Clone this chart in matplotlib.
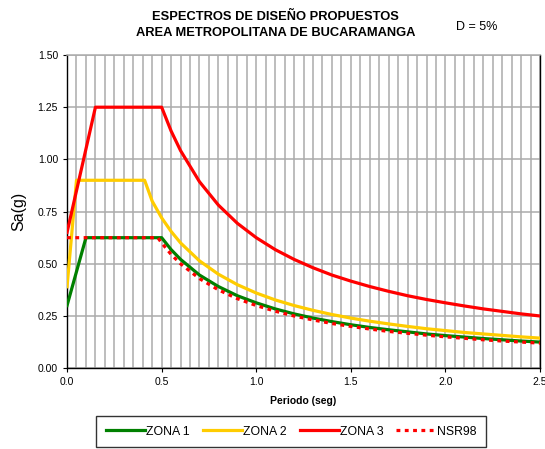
import matplotlib
matplotlib.use("Agg")
import matplotlib.pyplot as plt
from matplotlib.ticker import MultipleLocator

plt.rcParams['font.family'] = ['Liberation Sans', 'DejaVu Sans']

# Design spectra: period (s) and spectral acceleration Sa (g)
t_zona1 = [0.0, 0.10, 0.50, 0.55, 0.60, 0.70, 0.80, 0.90, 1.00, 1.10, 1.20, 1.30,
           1.40, 1.50, 1.60, 1.70, 1.80, 1.90, 2.00, 2.10, 2.20, 2.30, 2.40, 2.50]
sa_zona1 = [0.30, 0.625, 0.625, 0.568, 0.521, 0.446, 0.391, 0.347, 0.313, 0.284, 0.260, 0.240,
            0.223, 0.208, 0.195, 0.184, 0.174, 0.164, 0.156, 0.149, 0.142, 0.136, 0.130, 0.125]

t_zona2 = [0.0, 0.05, 0.41, 0.45, 0.50, 0.55, 0.60, 0.70, 0.80, 0.90, 1.00, 1.10, 1.20,
           1.30, 1.40, 1.50, 1.60, 1.70, 1.80, 1.90, 2.00, 2.10, 2.20, 2.30, 2.40, 2.50]
sa_zona2 = [0.39, 0.90, 0.90, 0.80, 0.72, 0.655, 0.60, 0.514, 0.45, 0.40, 0.36, 0.327, 0.30,
            0.277, 0.257, 0.24, 0.225, 0.212, 0.20, 0.189, 0.18, 0.171, 0.164, 0.157, 0.15, 0.144]

t_zona3 = [0.0, 0.15, 0.50, 0.55, 0.60, 0.70, 0.80, 0.90, 1.00, 1.10, 1.20, 1.30,
           1.40, 1.50, 1.60, 1.70, 1.80, 1.90, 2.00, 2.10, 2.20, 2.30, 2.40, 2.50]
sa_zona3 = [0.65, 1.25, 1.25, 1.136, 1.042, 0.893, 0.781, 0.694, 0.625, 0.568, 0.521, 0.481,
            0.446, 0.417, 0.391, 0.368, 0.347, 0.329, 0.313, 0.298, 0.284, 0.272, 0.260, 0.250]

t_nsr98 = [0.0, 0.48, 0.50, 0.55, 0.60, 0.70, 0.80, 0.90, 1.00, 1.10, 1.20, 1.30,
           1.40, 1.50, 1.60, 1.70, 1.80, 1.90, 2.00, 2.10, 2.20, 2.30, 2.40, 2.50]
sa_nsr98 = [0.625, 0.625, 0.60, 0.545, 0.50, 0.429, 0.375, 0.333, 0.30, 0.273, 0.25, 0.231,
            0.214, 0.20, 0.1875, 0.176, 0.167, 0.158, 0.15, 0.143, 0.136, 0.130, 0.125, 0.12]

labels = ["ZONA 1", "ZONA 2", "ZONA 3", "NSR98"]
colors = ["#008000", "#FFCC00", "#FF0000", "#FF0000"]

fig = plt.figure(figsize=(5.45, 4.49), dpi=100)
ax = fig.add_axes([0.123, 0.180, 0.868, 0.6975])

lw = 2.3
ax.plot(t_zona1, sa_zona1, color=colors[0], lw=lw, label=labels[0], zorder=3)
ax.plot(t_zona2, sa_zona2, color=colors[1], lw=lw, label=labels[1], zorder=3)
ax.plot(t_zona3, sa_zona3, color=colors[2], lw=lw, label=labels[2], zorder=3)
ax.plot(t_nsr98, sa_nsr98, color=colors[3], lw=lw, ls=(0, (1.2, 1.4)),
        label=labels[3], zorder=4)

ax.set_xlim(0, 2.5)
ax.set_ylim(0, 1.5)
ax.xaxis.set_major_locator(MultipleLocator(0.5))
ax.xaxis.set_minor_locator(MultipleLocator(0.05))
ax.yaxis.set_major_locator(MultipleLocator(0.25))
ax.xaxis.set_major_formatter(plt.FormatStrFormatter('%.1f'))
ax.yaxis.set_major_formatter(plt.FormatStrFormatter('%.2f'))

ax.grid(which='both', axis='x', color='#ababab', lw=1.1, zorder=0)
ax.grid(which='major', axis='y', color='#ababab', lw=1.1, zorder=0)
ax.set_axisbelow(True)

ax.tick_params(axis='both', which='major', labelsize=7.5, length=3, width=0.8,
               direction='out', colors='black')
ax.tick_params(axis='x', which='minor', length=0)

ax.spines['top'].set_color('#ababab')
ax.spines['top'].set_linewidth(1.1)
ax.spines['right'].set_color('black')
ax.spines['right'].set_linewidth(1.0)
ax.spines['left'].set_linewidth(1.0)
ax.spines['bottom'].set_linewidth(1.0)

ax.set_xlabel("Periodo (seg)", fontsize=7.5, fontweight='bold', labelpad=6)
ax.set_ylabel("Sa(g)", fontsize=11.5, labelpad=8)

fig.text(0.505, 0.963, "ESPECTROS DE DISEÑO PROPUESTOS", ha='center', va='center',
         fontsize=9.3, fontweight='bold')
fig.text(0.505, 0.926, "AREA METROPOLITANA DE BUCARAMANGA", ha='center', va='center',
         fontsize=9.3, fontweight='bold')
fig.text(0.874, 0.94, "D = 5%", ha='center', va='center', fontsize=9)

leg = fig.legend(loc='center', bbox_to_anchor=(0.534, 0.0385), ncol=4,
                 fontsize=8.8, frameon=True, fancybox=False, edgecolor='black',
                 handlelength=3.2, handletextpad=0.1, columnspacing=1.05, borderpad=0.8)
leg.get_frame().set_linewidth(1.0)

fig.savefig("out.png", dpi=100)
